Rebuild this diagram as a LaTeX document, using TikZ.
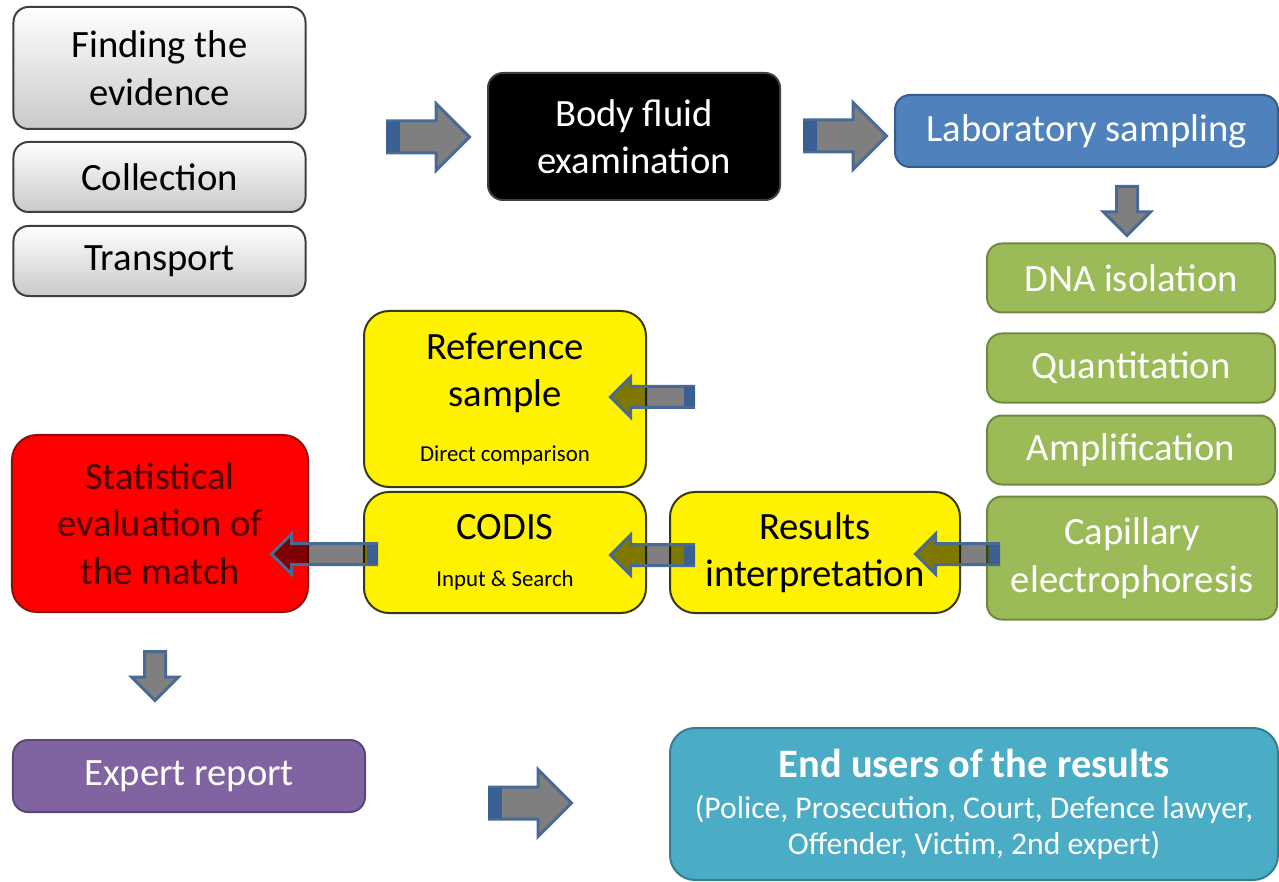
\documentclass[tikz,border=0pt]{standalone}
\usepackage{fontspec}
\setmainfont{Carlito}
\usetikzlibrary{shapes.arrows,positioning,calc}

\definecolor{grayline}{HTML}{3F3F3F}
\definecolor{grayfill}{HTML}{C9C9C9}
\definecolor{labblue}{HTML}{4F81BD}
\definecolor{labline}{HTML}{385D8A}
\definecolor{dnagreen}{HTML}{9BBB59}
\definecolor{dnaline}{HTML}{71893F}
\definecolor{codisline}{HTML}{3A3A10}
\definecolor{matchred}{HTML}{FF0000}
\definecolor{matchline}{HTML}{8C1010}
\definecolor{matchtext}{HTML}{4A0000}
\definecolor{reportpurple}{HTML}{8064A2}
\definecolor{reportline}{HTML}{5C4776}
\definecolor{usersteal}{HTML}{4BACC6}
\definecolor{usersline}{HTML}{357D91}
\definecolor{arrowline}{HTML}{4A6A96}
\definecolor{arrowband}{HTML}{3A5F92}

\begin{document}
\begin{tikzpicture}[x=0.2mm,y=-0.2mm,
    box/.style={rounded corners=3mm,draw,line width=0.4mm,align=center,
                inner sep=0pt,font=\fontsize{22}{27}\selectfont},
    scenebox/.style={box,draw=grayline,top color=white,bottom color=grayfill,
                     minimum width=58.4mm,minimum height=14mm},
    fluidbox/.style={box,fill=black,draw=grayline,text=white},
    labbox/.style={box,fill=labblue,draw=labline,text=white},
    dnabox/.style={box,fill=dnagreen,draw=dnaline,text=white,
                   minimum width=57.6mm,minimum height=13.8mm},
    codisbox/.style={box,fill=yellow,draw=codisline,rounded corners=5mm,
                     minimum width=56.4mm},
    matchbox/.style={box,fill=matchred,draw=matchline,text=matchtext,
                     rounded corners=5mm},
    reportbox/.style={box,fill=reportpurple,draw=reportline,text=white},
    usersbox/.style={box,fill=usersteal,draw=usersline,text=white,
                     rounded corners=5mm,font=\fontsize{18}{20.5}\selectfont},
    flowarrow/.style={single arrow,draw=arrowline,line width=0.6mm,
                      fill=black,fill opacity=0.5,inner xsep=0pt,
                      single arrow tip angle=90},
    bigarrow/.style={flowarrow,inner ysep=2.9mm,single arrow head extend=3.5mm,
                     minimum height=16.4mm},
    smallarrow/.style={flowarrow,inner ysep=1.8mm,single arrow head extend=1.9mm,
                       minimum height=16.6mm,shape border rotate=180},
    downarrow/.style={flowarrow,inner sep=1.8mm,single arrow head extend=2.6mm,
                      minimum height=9.8mm,shape border rotate=270}]

  \useasboundingbox (0,0) rectangle (1279,882);

  % crime scene
  \node[scenebox,minimum height=24.4mm] (find) at (159.5,68) {Finding the\\evidence};
  \node[scenebox,below=2.2mm of find] (collect) {Collection};
  \node[scenebox,below=2.4mm of collect] (transport) {Transport};

  % laboratory
  \node[fluidbox,minimum width=58.4mm,minimum height=25.4mm] (fluid) at (634,136.5)
        {Body fluid\\examination};
  \node[labbox,minimum width=76.6mm,minimum height=14.4mm] (lab) at (1086.5,131)
        {Laboratory sampling};
  \node[dnabox] (isolate) at (1131,278) {DNA isolation};
  \node[dnabox,below=3.8mm of isolate] (quant) {Quantitation};
  \node[dnabox,below=2.2mm of quant] (amplify) {Amplification};
  \node[dnabox,minimum width=58mm,minimum height=24.6mm,below=2mm of amplify,
        xshift=0.2mm] (capillary) {Capillary\\electrophoresis};

  % interpretation
  \node[codisbox,minimum width=58mm,minimum height=24.2mm] (results) at (815,552.5)
        {Results\\interpretation};
  \node[codisbox,minimum height=24.2mm] (codis) at (505,552.5)
        {CODIS\\[0mm]{\fontsize{13}{15}\selectfont Input \& Search}};
  \node[codisbox,minimum height=35.2mm] (reference) at (505,399)
        {Reference\\sample\\[1.5mm]{\fontsize{13}{15}\selectfont Direct comparison}};
  \node[matchbox,minimum width=59.2mm,minimum height=35.4mm] (match) at (160,523.5)
        {Statistical\\evaluation of\\the match};

  % reporting
  \node[reportbox,minimum width=70.4mm,minimum height=14.4mm] (report) at (189,776)
        {Expert report};
  \node[usersbox,minimum width=121.6mm,minimum height=30.4mm] (users) at (974,804)
        {{\bfseries\fontsize{23}{25}\selectfont End users of the results}\\[1mm]
         (Police, Prosecution, Court, Defence lawyer,\\
         Offender, Victim, 2nd expert)};

  % block arrows
  \node[bigarrow,anchor=tail] (a1) at (386,137) {};
  \node[bigarrow,anchor=tail] (a2) at (803,136) {};
  \node[downarrow,anchor=tail] (a3) at (1127,185) {};
  \node[smallarrow,anchor=tail] (a4) at (695,397) {};
  \node[smallarrow,anchor=tail] (a5) at (695,555) {};
  \node[smallarrow,anchor=tail] (a6) at (1000,554) {};
  \node[smallarrow,anchor=tail,minimum height=21mm] (a7) at (378,554) {};
  \node[downarrow,anchor=tail] (a8) at (155,650) {};
  \node[bigarrow,anchor=tail] (a9) at (488,803) {};

  % dark band at the tail end
  \foreach \a in {a1,a2,a9}
    \draw[arrowband,line width=6mm] (\a.tail) -- ++(14,0);
  \foreach \a in {a4,a5,a6,a7}
    \draw[arrowband,line width=3.8mm] (\a.tail) -- ++(-11,0);
\end{tikzpicture}
\end{document}
